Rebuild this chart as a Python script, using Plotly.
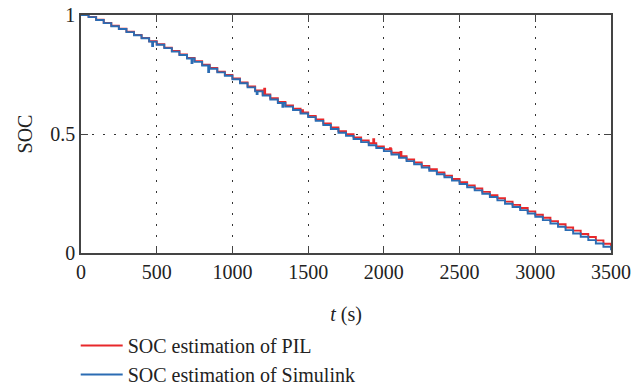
import plotly.graph_objects as go

# sample times (s)
t_grid = list(range(0, 3501, 50))

soc_sim = [1.000, 0.991, 0.979, 0.966, 0.953, 0.941, 0.928, 0.915, 0.902, 0.888,
           0.875, 0.861, 0.846, 0.832, 0.817, 0.803, 0.788, 0.774, 0.759, 0.745,
           0.730, 0.713, 0.696, 0.679, 0.662, 0.645, 0.630, 0.615, 0.601, 0.586,
           0.571, 0.555, 0.538, 0.521, 0.505, 0.492, 0.479, 0.466, 0.453, 0.441,
           0.428, 0.414, 0.400, 0.386, 0.373, 0.359, 0.345, 0.331, 0.318, 0.304,
           0.290, 0.276, 0.263, 0.249, 0.235, 0.221, 0.207, 0.193, 0.180, 0.166,
           0.152, 0.138, 0.124, 0.110, 0.096, 0.082, 0.068, 0.054, 0.040, 0.026,
           0.012]

soc_pil = [1.000, 0.992, 0.980, 0.967, 0.955, 0.942, 0.930, 0.916, 0.904, 0.890,
           0.877, 0.863, 0.849, 0.834, 0.820, 0.806, 0.791, 0.777, 0.762, 0.748,
           0.733, 0.717, 0.700, 0.683, 0.666, 0.650, 0.635, 0.620, 0.606, 0.591,
           0.576, 0.561, 0.544, 0.528, 0.512, 0.499, 0.486, 0.473, 0.461, 0.448,
           0.436, 0.421, 0.407, 0.393, 0.380, 0.366, 0.352, 0.338, 0.325, 0.311,
           0.297, 0.284, 0.271, 0.257, 0.243, 0.230, 0.216, 0.202, 0.189, 0.175,
           0.161, 0.148, 0.134, 0.121, 0.107, 0.094, 0.080, 0.067, 0.053, 0.039,
           0.025]

# short spikes seen on the traces
spike_t_pil = [1210, 1460, 1930, 2040, 2110]
spike_v_pil = [0.690, 0.600, 0.478, 0.440, 0.425]
spike_t_sim = [470, 730, 840, 1160, 1330]
spike_v_sim = [0.870, 0.798, 0.760, 0.668, 0.614]

x_ticks = [0, 500, 1000, 1500, 2000, 2500, 3000, 3500]
y_ticks = [0, 0.5, 1]
y_tick_text = ["0", "0.5", "1"]

names = ["SOC estimation of PIL", "SOC estimation of Simulink"]
colors = ["#e8282b", "#2b6cb3"]


def with_spikes(ts, vs, st, sv):
    pts = list(zip(ts, vs))
    for t, v in zip(st, sv):
        base = vs[0]
        for tt, vv in zip(ts, vs):
            if tt <= t:
                base = vv
        pts.append((t, v))
        pts.append((t + 6, base))
    pts.sort(key=lambda p: p[0])
    return [p[0] for p in pts], [p[1] for p in pts]


tp, vp = with_spikes(t_grid, soc_pil, spike_t_pil, spike_v_pil)
tsim, vsim = with_spikes(t_grid, soc_sim, spike_t_sim, spike_v_sim)

fig = go.Figure()
fig.add_trace(go.Scatter(x=tp, y=vp, mode="lines", name=names[0],
                         line=dict(color=colors[0], width=1.9, shape="hv")))
fig.add_trace(go.Scatter(x=tsim, y=vsim, mode="lines", name=names[1],
                         line=dict(color=colors[1], width=1.9, shape="hv")))

font_family = "Liberation Serif"
axis_common = dict(
    showline=True, linecolor="#444444", linewidth=1.5, mirror="allticks",
    ticks="inside", ticklen=7, tickwidth=1.2, tickcolor="#444444",
    showgrid=True, gridcolor="#333333", gridwidth=1, griddash="2px,9px",
    zeroline=False, tickfont=dict(family=font_family, size=20, color="#222222"),
    automargin=False,
)

fig.update_xaxes(range=[0, 3500], tickvals=x_ticks,
                 title=dict(text="<i>t</i> (s)", standoff=29,
                            font=dict(family=font_family, size=20, color="#222222")),
                 **axis_common)
fig.update_yaxes(range=[0, 1], tickvals=y_ticks, ticktext=y_tick_text,
                 title=dict(text="SOC", standoff=12,
                            font=dict(family=font_family, size=20, color="#222222")),
                 **axis_common)

fig.update_layout(
    width=642, height=389,
    margin=dict(l=81, r=31, t=15, b=136, autoexpand=False),
    paper_bgcolor="white", plot_bgcolor="white",
    font=dict(family=font_family, size=20, color="#222222"),
    showlegend=True,
    legend=dict(x=-0.01, y=0.162, yref="container", xanchor="left", yanchor="top",
                bgcolor="rgba(0,0,0,0)", font=dict(family=font_family, size=20, color="#222222"),
                tracegroupgap=0, itemwidth=42),
)

fig.write_html("out.html")
